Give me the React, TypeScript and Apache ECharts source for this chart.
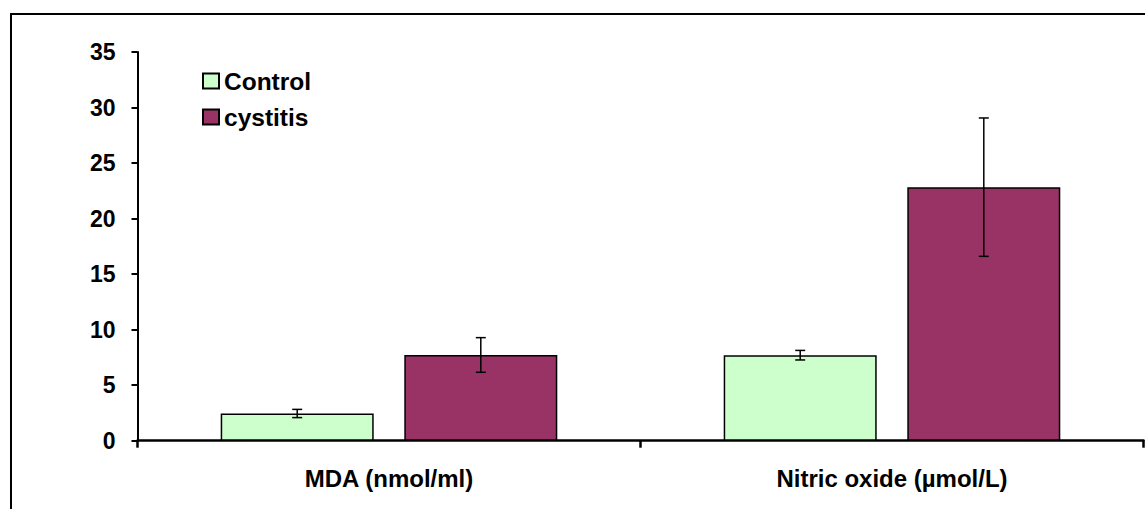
import React, { useEffect, useRef } from "react";
import * as echarts from "echarts";

const categories = ["MDA (nmol/ml)", "Nitric oxide (µmol/L)"];
const controlValues = [2.45, 7.7];
const controlErrors = [0.37, 0.43];
const cystitisValues = [7.72, 22.83];
const cystitisErrors = [1.56, 6.23];
const yTicks = { min: 0, max: 35, interval: 5 };

const FONT = "'Liberation Sans', Arial, sans-serif";
const BAR_WIDTH = 153;
const BAR_GAP_RATIO = 0.2;

export default function App() {
  const ref = useRef<HTMLDivElement>(null);
  useEffect(() => {
    if (!ref.current) return;
    const chart = echarts.init(ref.current, undefined, { renderer: "svg" });
    const offset = (BAR_WIDTH + BAR_WIDTH * BAR_GAP_RATIO) / 2;
    const errSeries = (name: string, vals: number[], errs: number[], dir: number) => ({
      type: "custom",
      name: name + " error",
      z: 10,
      data: vals.map((v, i) => [i, v, errs[i]]),
      renderItem: (params: any, api: any) => {
        const i = api.value(0);
        const v = api.value(1);
        const e = api.value(2);
        const hi = api.coord([i, v + e]);
        const lo = api.coord([i, v - e]);
        const x = hi[0] + dir * offset;
        const cap = 5;
        const style = { stroke: "#000", lineWidth: 1.5 };
        return {
          type: "group",
          children: [
            { type: "line", shape: { x1: x, y1: hi[1], x2: x, y2: lo[1] }, style },
            { type: "line", shape: { x1: x - cap, y1: hi[1], x2: x + cap, y2: hi[1] }, style },
            { type: "line", shape: { x1: x - cap, y1: lo[1], x2: x + cap, y2: lo[1] }, style },
          ],
        };
      },
    });
    chart.setOption({
      animation: false,
      backgroundColor: "#fff",
      textStyle: { fontFamily: FONT },
      grid: { left: 137.5, right: 1.5, top: 52, bottom: 68.3, containLabel: false },
      legend: {
        data: ["Control", "cystitis"],
        orient: "vertical",
        left: 202,
        top: 68.5,
        padding: 0,
        itemWidth: 16,
        itemHeight: 15,
        itemGap: 11,
        icon: "rect",
        textStyle: { fontFamily: FONT, fontWeight: "bold", fontSize: 24.5, color: "#000", lineHeight: 24 },
      },
      xAxis: {
        type: "category",
        data: categories,
        axisLine: { lineStyle: { color: "#000", width: 2.5 } },
        axisTick: { show: true, length: 7, lineStyle: { color: "#000", width: 2.5 } },
        axisLabel: { fontFamily: FONT, fontWeight: "bold", fontSize: 24, color: "#000", margin: 26 },
      },
      yAxis: {
        type: "value",
        min: yTicks.min,
        max: yTicks.max,
        interval: yTicks.interval,
        splitLine: { show: false },
        axisLine: { show: true, lineStyle: { color: "#000", width: 2 } },
        axisTick: { show: true, length: 6, lineStyle: { color: "#000", width: 2 } },
        axisLabel: { fontFamily: FONT, fontWeight: "bold", fontSize: 23, color: "#000", margin: 22 },
      },
      series: [
        {
          type: "bar",
          name: "Control",
          data: controlValues,
          barWidth: BAR_WIDTH,
          barGap: BAR_GAP_RATIO * 100 + "%",
          itemStyle: { color: "#CCFFCC", borderColor: "#000", borderWidth: 1.5 },
        },
        {
          type: "bar",
          name: "cystitis",
          data: cystitisValues,
          barWidth: BAR_WIDTH,
          barGap: BAR_GAP_RATIO * 100 + "%",
          itemStyle: { color: "#993366", borderColor: "#000", borderWidth: 1.5 },
        },
        errSeries("Control", controlValues, controlErrors, -1),
        errSeries("cystitis", cystitisValues, cystitisErrors, 1),
      ],
      graphic: [
        {
          type: "rect",
          shape: { x: 11, y: 14, width: 1300, height: 700 },
          style: { fill: "none", stroke: "#000", lineWidth: 2 },
          silent: true,
          z: -1,
        },
      ],
    });
    return () => chart.dispose();
  }, []);
  return (
    <div
      ref={ref}
      style={{ position: "fixed", left: 0, top: 0, width: 1145, height: 509, overflow: "hidden" }}
    />
  );
}
